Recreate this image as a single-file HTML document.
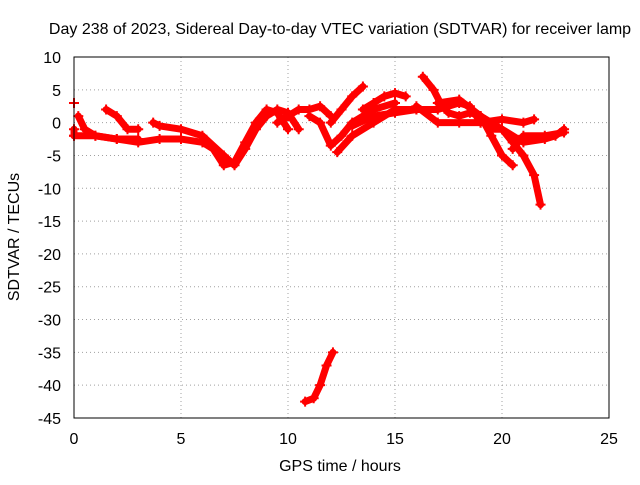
<!DOCTYPE html>
<html><head><meta charset="utf-8"><style>
body{margin:0;background:#fff;font-family:"Liberation Sans",sans-serif}
svg text{font-family:"Liberation Sans",sans-serif;font-size:16px;fill:#000}
</style></head><body>
<svg width="640" height="480" id="c">
<text x="340" y="34" text-anchor="middle">Day 238 of 2023, Sidereal Day-to-day VTEC variation (SDTVAR) for receiver lamp</text>
<text x="340" y="471" text-anchor="middle">GPS time / hours</text>
<text transform="translate(19,237) rotate(-90)" text-anchor="middle">SDTVAR / TECUs</text>
<g id="grid"></g><g id="ticks"></g><g id="marks"></g>
<rect x="74" y="57" width="535" height="361" fill="none" stroke="#000" stroke-width="1"/>
</svg>
<script>
const xTicks=[0,5,10,15,20,25];
const yTicks=[10,5,0,-5,-10,-15,-20,-25,-30,-35,-40,-45];
const tracks=[
[[0,3]],[[0,-1],[0,-2]],
[[0.2,1],[0.5,-1],[1,-2],[2,-2.5],[3,-3],[4,-2.5],[5,-2.5],[6,-3],[6.5,-4],[7,-6.5],[7.5,-6],[8,-3],[8.5,0],[9,2],[9.5,1.5],[10,-1]],
[[0,-2],[1,-2],[2,-2.5],[3,-2.5]],
[[1.5,2],[2,1],[2.5,-1],[3,-1]],
[[3.7,0],[4,-0.5],[5,-1],[6,-2],[7,-5],[7.5,-6.5],[8,-4],[8.5,-1],[9,1],[9.5,2],[10,1.5],[10.5,-1]],
[[9.5,0],[10,1],[10.5,2],[11,2],[11.5,2.5],[12,1]],
[[10.8,-42.5],[11.2,-42],[11.5,-40],[11.8,-37],[12.1,-35]],
[[11,1],[11.5,0],[12,-3.5],[12.5,-2],[13,0],[13.5,1],[14,2],[15,3]],
[[12.3,-4.5],[13,-2],[14,0],[15,2],[16,2]],
[[12,0],[12.5,2],[13,4],[13.5,5.5]],
[[13.5,2],[14,3],[14.5,4],[15,4.5],[15.5,4]],
[[13,-0.5],[14,1],[15,1.5],[16,2],[17,2],[18,3],[18.5,2.5],[19,0]],
[[16.3,7],[16.8,5],[17.2,2.5],[17.5,1.5],[18,1],[18.5,1.5],[19,1],[19.5,0]],
[[16,2.5],[17,0],[18,0],[19,0],[20,0.5],[21,0],[21.5,0.5]],
[[17,3],[18,3.5],[19,1],[19.5,-1],[20,-1],[20.5,-3],[21,-5],[21.5,-8],[21.8,-12.5]],
[[19,1],[19.5,-2],[20,-5],[20.5,-6.5]],
[[19.5,0],[20,-1],[21,-3],[22,-2.5],[22.5,-2],[22.9,-1]],
[[20.5,-4],[21,-2],[22,-2],[22.9,-1.5]]
];
const X=v=>74+v*535/25, Y=v=>57+(10-v)*361/55;
const NS='http://www.w3.org/2000/svg';
function mk(t,a,p){const e=document.createElementNS(NS,t);for(const k in a)e.setAttribute(k,a[k]);p.appendChild(e);return e;}
const g=document.getElementById('grid'),tk=document.getElementById('ticks'),m=document.getElementById('marks');
xTicks.forEach(v=>{
 const l=mk('line',{x1:X(v),x2:X(v),y1:57,y2:418,stroke:'#a0a0a0','stroke-dasharray':'1,3'},g);
 
 
 const t=mk('text',{x:X(v),y:444,'text-anchor':'middle'},tk);t.textContent=v;
 
 
});
yTicks.forEach(v=>{
 const l=mk('line',{x1:74,x2:609,y1:Y(v),y2:Y(v),stroke:'#a0a0a0','stroke-dasharray':'1,3'},g);
 
 
 const t=mk('text',{x:61,y:Y(v)+6,'text-anchor':'end'},tk);t.textContent=v;
 
 
});
tracks.forEach(tr=>{
 const p=mk('polyline',{points:tr.map(d=>X(d[0])+','+Y(d[1])).join(' '),fill:'none',stroke:'#f00','stroke-width':7,'stroke-linejoin':'round','stroke-linecap':'round'},m);
 
 
 tr.forEach(d=>{
  const x=X(d[0]),y=Y(d[1]);
  const c=mk('path',{d:`M${x-5},${y}H${x+5}M${x},${y-5}V${y+5}`,stroke:'#f00','stroke-width':2},m);
  
  
 });
});
</script>
</body></html>
